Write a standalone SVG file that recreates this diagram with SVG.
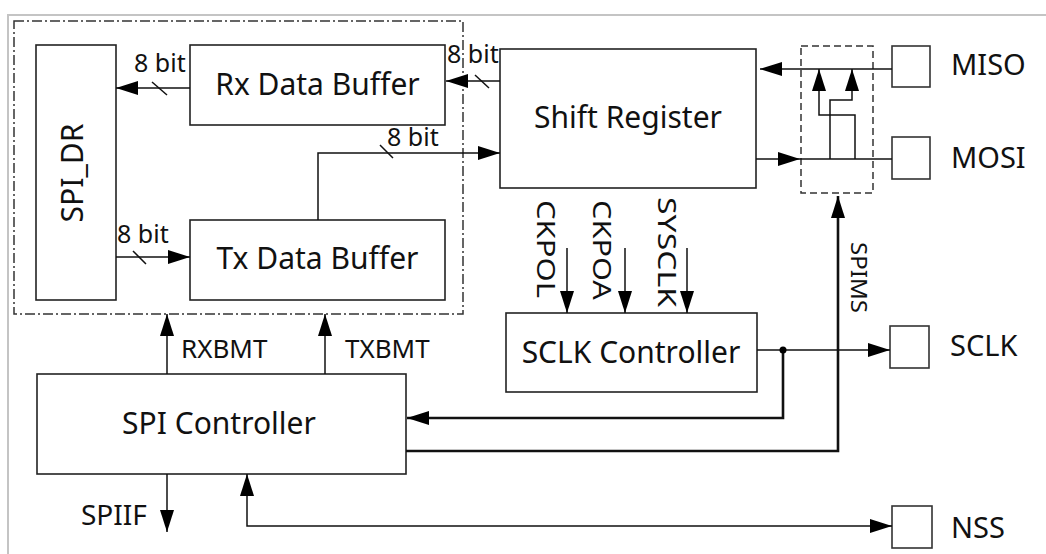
<svg xmlns="http://www.w3.org/2000/svg" width="1046" height="554" viewBox="0 0 1046 554">
<style>
text{font-family:"Noto Sans","Liberation Sans",sans-serif;fill:#111}
.box{fill:#fff;stroke:#222;stroke-width:1.6}
.pin{fill:#fff;stroke:#333;stroke-width:1.6}
.t{font-size:30px;text-anchor:middle}
.p{font-size:29px}
.s{font-size:25px}
.v{font-size:25px;text-anchor:middle}
.c{fill:none;stroke:#111;stroke-width:1.5}
.k{fill:none;stroke:#111;stroke-width:2.6}
.a{marker-end:url(#ah)}
</style>
<defs>
<marker id="ah" markerWidth="22" markerHeight="14" refX="22" refY="7" orient="auto-start-reverse" markerUnits="userSpaceOnUse"><path d="M0,0 L22,7 L0,14 z" fill="#000"/></marker>
</defs>
<path d="M8,554 V15 H1046" fill="none" stroke="#c4c4c4" stroke-width="2"/>
<rect x="14" y="21" width="449" height="293" fill="none" stroke="#333" stroke-width="1.5" stroke-dasharray="10 3 2 3"/>
<rect x="801" y="46" width="72" height="147" fill="none" stroke="#333" stroke-width="1.5" stroke-dasharray="7 4"/>

<g id="spi_dr"><rect class="box" x="36" y="45" width="80" height="255"/><text class="t" transform="translate(83,173) rotate(-90)" textLength="99" lengthAdjust="spacingAndGlyphs">SPI_DR</text></g>
<g id="rx_buffer"><rect class="box" x="190" y="45" width="255" height="80"/><text class="t" x="317.5" y="95">Rx Data Buffer</text></g>
<g id="tx_buffer"><rect class="box" x="190" y="220" width="255" height="80"/><text class="t" x="317.5" y="269">Tx Data Buffer</text></g>
<g id="shift_register"><rect class="box" x="500" y="49" width="256" height="139"/><text class="t" x="628" y="128">Shift Register</text></g>
<g id="sclk_controller"><rect class="box" x="506" y="313" width="251" height="79"/><text class="t" x="631" y="363">SCLK Controller</text></g>
<g id="spi_controller"><rect class="box" x="37" y="374" width="369" height="100"/><text class="t" x="219" y="434">SPI Controller</text></g>
<g id="miso"><rect class="pin" x="892" y="46" width="38" height="41"/><text class="p" x="951" y="75">MISO</text></g>
<g id="mosi"><rect class="pin" x="892" y="137" width="38" height="42"/><text class="p" x="951" y="168">MOSI</text></g>
<g id="sclk"><rect class="pin" x="890" y="326" width="39" height="42"/><text class="p" x="950" y="356">SCLK</text></g>
<g id="nss"><rect class="pin" x="892" y="506" width="40" height="42"/><text class="p" x="951" y="538">NSS</text></g>

<g id="connectors">
<path class="c a" d="M190,88 H116"/>
<path class="c" d="M152,82 L167,95"/>
<text class="s" x="134" y="72">8 bit</text>
<path class="c a" d="M500,81 H446"/>
<path class="c" d="M475,75 L489,88"/>
<text class="s" x="447" y="63">8 bit</text>
<path class="c a" d="M318,220 V153 H500"/>
<path class="c" d="M380,145 L393,158"/>
<text class="s" x="387" y="146">8 bit</text>
<path class="c a" d="M116,257 H190"/>
<path class="c" d="M133,251 L146,264"/>
<text class="s" x="117" y="243">8 bit</text>
<path class="c a" d="M892,69 H760"/>
<path class="c a" d="M756,159 H800"/>
<path class="c" d="M800,159 H892"/>
<path class="c a" d="M855,159 V115 H819 V69"/>
<path class="c a" d="M830,159 V100 H852 V69"/>
<path class="k a" d="M406,451 H838 V196"/>
<text class="v" style="font-size:22px" transform="translate(851,277.5) rotate(90)" textLength="71" lengthAdjust="spacingAndGlyphs">SPIMS</text>
<path class="c a" d="M757,350 H890"/>
<path class="k a" d="M783,350 V418 H407"/>
<circle cx="783" cy="350" r="3.5" fill="#000"/>
<path class="c a" d="M892,526 H247 V474" style="marker-start:url(#ah)"/>
<path class="c a" d="M167,374 V314"/>
<text class="s" style="font-size:26px" x="181" y="358">RXBMT</text>
<path class="c a" d="M325,374 V314"/>
<text class="s" style="font-size:26px" x="345" y="358">TXBMT</text>
<path class="c a" d="M167,474 V532"/>
<text class="p" style="font-size:28px" x="81" y="525">SPIIF</text>
<path class="c a" d="M567,248 V313"/>
<text class="v" transform="translate(537,249) rotate(90)" textLength="98" lengthAdjust="spacingAndGlyphs">CKPOL</text>
<path class="c a" d="M625,248 V313"/>
<text class="v" transform="translate(593,250) rotate(90)" textLength="100" lengthAdjust="spacingAndGlyphs">CKPOA</text>
<path class="c a" d="M687,248 V313"/>
<text class="v" transform="translate(658,252) rotate(90)" textLength="110" lengthAdjust="spacingAndGlyphs">SYSCLK</text>
</g>
</svg>
